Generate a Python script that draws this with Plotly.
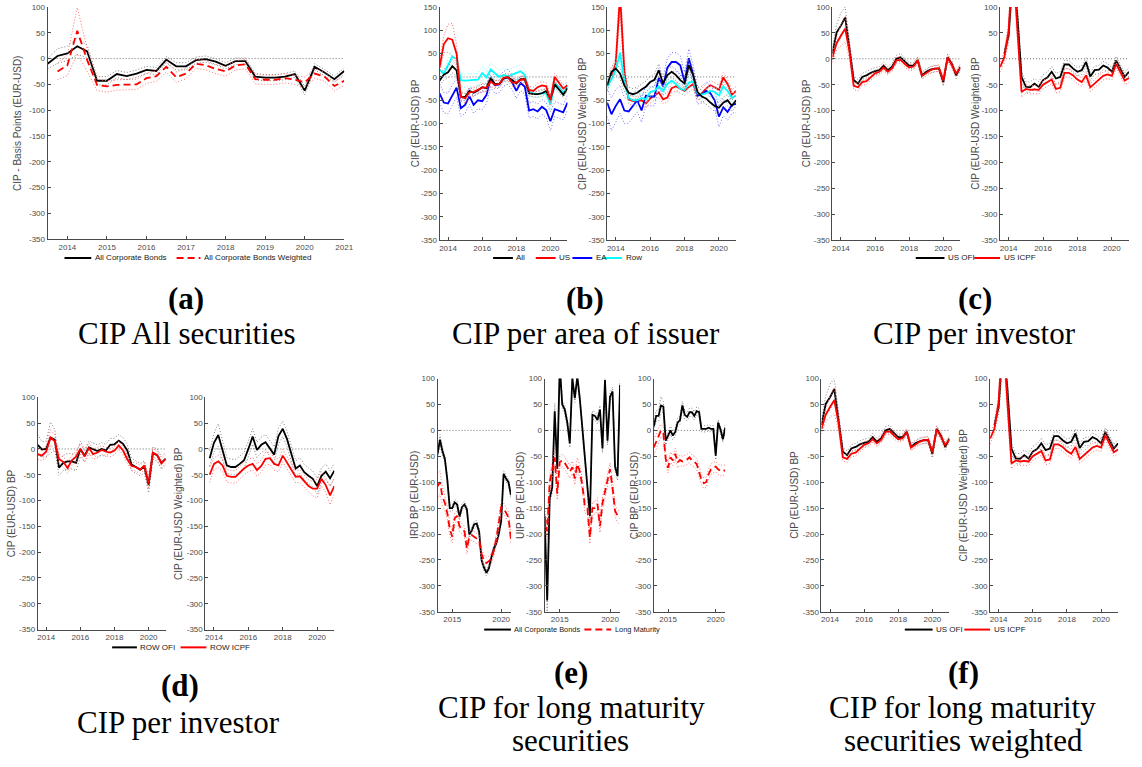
import plotly.graph_objects as go

W, H = 1142, 767

# ---------------- data (quarterly) ----------------
T = [2013.5, 2013.75, 2014.0, 2014.25, 2014.5, 2014.75, 2015.0, 2015.25, 2015.5, 2015.75,
     2016.0, 2016.25, 2016.5, 2016.75, 2017.0, 2017.25, 2017.5, 2017.75, 2018.0, 2018.25,
     2018.5, 2018.75, 2019.0, 2019.25, 2019.5, 2019.75, 2020.0, 2020.25, 2020.5, 2020.75, 2021.0]

X_TICKS_YEARLY = [2014, 2015, 2016, 2017, 2018, 2019, 2020, 2021]
X_TICKS_YEARLY_TEXT = ['2014', '2015', '2016', '2017', '2018', '2019', '2020', '2021']
X_TICKS_EVEN = [2014, 2016, 2018, 2020]
X_TICKS_EVEN_TEXT = ['2014', '2016', '2018', '2020']
X_TICKS_E = [2015, 2020]
X_TICKS_E_TEXT = ['2015', '2020']
Y_TICKS_100 = [-350, -300, -250, -200, -150, -100, -50, 0, 50, 100]
Y_TICKS_100_TEXT = ['-350', '-300', '-250', '-200', '-150', '-100', '-50', '0', '50', '100']
Y_TICKS_150 = [-350, -300, -250, -200, -150, -100, -50, 0, 50, 100, 150]
Y_TICKS_150_TEXT = ['-350', '-300', '-250', '-200', '-150', '-100', '-50', '0', '50', '100', '150']

# (a) CIP all securities
a_all = [-10, 5, 10, 24, 14, -43, -43, -30, -34, -29, -22, -24, -2, -15, -15, -3, -1, -6, -14, -5, -5, -35, -37, -37, -35, -30, -62, -16, -27, -40, -24]
a_all_hw = [10, 14, 14, 16, 12, 8, 8, 7, 7, 7, 7, 7, 6, 7, 7, 6, 6, 6, 6, 6, 6, 6, 6, 6, 6, 6, 8, 6, 6, 6, 6]
a_w = [None, -25, -13, 54, -3, -51, -54, -51, -50, -50, -38, -34, -16, -36, -29, -10, -13, -20, -25, -13, -11, -40, -41, -41, -38, -41, -46, -29, -35, -53, -43]
a_w_hw = [None, 16, 20, 45, 22, 11, 11, 10, 10, 10, 10, 10, 10, 10, 10, 9, 9, 9, 9, 9, 9, 9, 9, 9, 9, 9, 10, 9, 9, 9, 9]

# (b) per area of issuer
b_all = [-8, 5, 10, 23, 14, -42, -43, -30, -34, -29, -22, -24, -2, -15, -15, -3, -1, -6, -14, -5, -5, -35, -37, -37, -35, -30, -48, -16, -27, -38, -24]
b_all_hw = [10, 12, 12, 14, 12, 8, 8, 7, 7, 7, 7, 7, 6, 7, 7, 6, 6, 6, 6, 6, 6, 6, 6, 6, 6, 6, 8, 6, 6, 6, 6]
b_us = [20, 70, 83, 80, 50, -42, -46, -33, -32, -27, -23, -23, -10, -17, -15, -2, 0, -12, -12, -6, -5, -28, -30, -22, -18, -20, -50, 0, -12, -25, -18]
b_us_hw = [12, 18, 30, 35, 20, 10, 10, 9, 9, 9, 9, 9, 9, 9, 9, 8, 8, 8, 8, 8, 8, 8, 8, 8, 8, 8, 10, 8, 8, 8, 8]
b_ea = [-35, -55, -57, -39, -23, -67, -60, -41, -60, -50, -52, -39, -4, -18, -16, -4, 0, -11, -30, -13, -21, -72, -69, -74, -64, -71, -95, -69, -72, -76, -55]
b_ea_hw = [20, 22, 22, 22, 20, 18, 18, 18, 18, 18, 18, 18, 18, 18, 18, 16, 16, 16, 16, 16, 16, 16, 16, 16, 16, 16, 20, 16, 16, 16, 16]
b_row = [16, 7, 25, 44, 39, -7, -8, -7, -6, -6, 8, -1, 16, 7, 0, 4, 1, 5, 8, 12, 4, -32, -35, -37, -35, -35, -60, -14, -21, -35, -21]
b_row_hw = [10, 10, 12, 14, 12, 14, 14, 14, 14, 14, 14, 14, 14, 14, 14, 14, 14, 14, 14, 14, 12, 8, 8, 8, 8, 8, 10, 8, 8, 8, 8]

b_all_w = [-18, 11, 18, 7, -18, -34, -37, -34, -27, -21, -11, -6, 14, -14, 4, 11, 4, -7, -14, 25, 4, -32, -42, -46, -55, -62, -66, -55, -50, -62, -50]
b_all_w_hw = [12, 12, 12, 12, 12, 12, 12, 12, 12, 12, 12, 12, 14, 12, 12, 12, 12, 12, 12, 14, 12, 12, 12, 12, 12, 12, 12, 12, 12, 12, 12]
b_us_w = [None, 2, 30, 175, 10, -48, -52, -52, -50, -57, -46, -40, -33, -48, -44, -24, -20, -25, -30, -22, -15, -40, -35, -25, -18, -22, -28, -1, -15, -38, -30]
b_us_w_hw = [None, 8, 15, 40, 20, 10, 10, 10, 10, 10, 10, 10, 10, 10, 10, 10, 10, 10, 10, 10, 10, 10, 10, 10, 10, 10, 10, 10, 10, 10, 10]
b_ea_w = [-55, -80, -62, -48, -72, -74, -62, -50, -72, -40, -42, -42, -2, -20, 20, 32, 32, 25, -10, 40, 5, -40, -38, -30, -35, -50, -85, -65, -75, -60, -58]
b_ea_w_hw = [30, 35, 35, 30, 28, 25, 25, 25, 25, 22, 20, 20, 20, 20, 20, 20, 20, 20, 20, 20, 20, 18, 18, 18, 18, 18, 22, 18, 18, 18, 18]
b_row_w = [-21, -5, 15, 52, -10, -45, -50, -50, -45, -48, -32, -30, -20, -30, -15, -8, -15, -25, -28, -12, -10, -35, -38, -35, -30, -32, -40, -20, -30, -45, -40]
b_row_w_hw = [10, 10, 12, 18, 12, 10, 10, 10, 10, 10, 10, 10, 10, 10, 10, 10, 10, 10, 10, 10, 10, 10, 10, 10, 10, 10, 10, 10, 10, 10, 10]

# (c) and (f) per investor, US
c_ofi = [10, 51, 64, 80, 20, -41, -48, -35, -32, -27, -24, -22, -13, -22, -15, 0, 3, -6, -13, -13, -3, -32, -25, -21, -19, -19, -45, 3, -10, -32, -16]
c_ofi_hw = [12, 15, 25, 20, 15, 8, 8, 7, 7, 7, 7, 7, 7, 7, 7, 7, 7, 6, 6, 6, 6, 6, 6, 6, 6, 6, 8, 6, 6, 6, 6]
c_icpf = [3, 30, 45, 58, 15, -52, -55, -45, -43, -35, -28, -25, -17, -25, -18, -3, -2, -10, -17, -15, -3, -33, -27, -22, -19, -18, -42, 2, -12, -28, -18]
c_icpf_hw = [10, 12, 20, 25, 15, 7, 7, 6, 6, 6, 6, 6, 6, 6, 6, 6, 6, 6, 6, 6, 6, 6, 6, 6, 6, 6, 7, 6, 6, 6, 6]
c_ofi_w = [None, 10, 45, 170, 85, -35, -54, -55, -48, -54, -41, -36, -25, -38, -35, -11, -11, -19, -25, -22, -6, -34, -22, -21, -13, -17, -25, -3, -19, -35, -25]
c_ofi_w_hw = [None, 8, 15, 30, 20, 10, 10, 10, 10, 10, 10, 10, 10, 10, 10, 8, 8, 8, 8, 8, 8, 8, 8, 8, 8, 8, 8, 8, 8, 8, 8]
c_icpf_w = [-16, 3, 54, 200, 60, -64, -58, -60, -59, -60, -50, -45, -40, -58, -56, -27, -27, -32, -40, -45, -32, -55, -48, -40, -33, -30, -33, -10, -25, -42, -37]
c_icpf_w_hw = [10, 10, 15, 30, 20, 10, 8, 8, 8, 8, 8, 8, 8, 8, 8, 8, 8, 8, 8, 8, 8, 8, 8, 8, 8, 8, 8, 8, 8, 8, 8]

# (d) per investor, ROW
d_ofi = [8, -1, 0, 22, 18, -36, -27, -24, -24, -27, 0, -13, 3, 0, -4, 0, -3, 8, 9, 16, 10, -3, -30, -35, -40, -35, -70, -8, -12, -27, -19]
d_ofi_hw = [20, 15, 15, 30, 20, 15, 15, 15, 15, 15, 15, 12, 12, 12, 12, 12, 12, 12, 12, 12, 12, 12, 12, 12, 12, 12, 15, 12, 12, 12, 12]
d_icpf = [-10, -13, -5, 22, 15, -20, -25, -37, -22, -15, 0, -15, 2, -10, -7, -2, -5, -7, -3, 7, -3, -20, -33, -35, -40, -32, -67, -7, -12, -28, -19]
d_icpf_hw = [10, 10, 12, 15, 12, 10, 10, 10, 10, 10, 10, 10, 10, 10, 10, 8, 8, 8, 8, 8, 8, 8, 8, 8, 8, 8, 10, 8, 8, 8, 8]
d_ofi_w = [None, -18, 12, 27, -3, -32, -35, -35, -29, -22, 0, 24, -2, 8, 13, 0, -11, 25, 39, 19, -10, -38, -32, -45, -52, -58, -72, -52, -44, -57, -42]
d_ofi_w_hw = [None, 15, 18, 22, 18, 15, 15, 15, 15, 15, 15, 15, 15, 15, 15, 15, 15, 15, 15, 15, 15, 15, 15, 15, 15, 15, 15, 15, 15, 15, 15]
d_icpf_w = [None, -50, -29, -24, -32, -52, -54, -54, -45, -38, -32, -29, -41, -33, -19, -18, -29, -32, -13, -27, -41, -54, -53, -62, -72, -77, -77, -58, -70, -90, -72]
d_icpf_w_hw = [None, 15, 12, 12, 12, 12, 12, 12, 12, 12, 12, 12, 12, 12, 12, 12, 12, 12, 12, 12, 12, 12, 12, 12, 12, 14, 18, 14, 14, 18, 15]

# (e) long maturity securities
e_ird = [-46, -18, -40, -55, -95, -150, -150, -139, -143, -166, -148, -143, -152, -201, -193, -181, -180, -195, -250, -265, -275, -266, -245, -228, -218, -200, -175, -84, -93, -100, -125]
e_ird_hw = [8, 10, 8, 6, 6, 6, 6, 6, 6, 6, 6, 6, 6, 6, 6, 6, 6, 6, 6, 6, 6, 6, 6, 6, 6, 6, 6, 6, 6, 6, 6]
e_ird_long = [-108, -100, -128, -140, -160, -190, -205, -170, -165, -185, -190, -195, -228, -205, -202, -205, -208, -212, -238, -252, -256, -252, -248, -232, -210, -180, -148, -150, -158, -168, -210]
e_ird_long_hw = [25, 22, 18, 14, 12, 12, 12, 10, 10, 10, 10, 10, 10, 10, 10, 10, 10, 10, 10, 10, 10, 10, 10, 10, 10, 10, 10, 10, 10, 10, 10]
e_uip = [-169, -328, -131, -110, 37, -74, 125, 50, 40, 15, -25, 101, 62, 104, 60, 5, -50, -110, -165, 30, 28, 20, 40, -35, 97, -20, 65, 75, -70, -88, 88]
e_uip_hw = [10, 25, 10, 10, 15, 10, 10, 8, 8, 8, 8, 8, 8, 8, 8, 8, 8, 8, 8, 8, 8, 8, 8, 8, 8, 8, 8, 8, 8, 8, 8]
e_uip_long = [-165, -195, -100, -74, -52, -122, -61, -58, -63, -71, -80, -71, -93, -65, -80, -106, -147, -150, -207, -150, -150, -142, -185, -140, -120, -95, -75, -110, -155, -165, -170]
e_uip_long_hw = [15, 15, 15, 15, 15, 12, 12, 12, 12, 12, 12, 12, 12, 12, 12, 12, 12, 12, 12, 12, 12, 12, 12, 12, 12, 12, 12, 12, 12, 12, 12]
e_cip = [8, 28, 28, 48, 46, -20, -10, 0, -10, -3, 15, 20, 48, 30, 26, 35, 35, 28, 37, 35, 3, 3, 3, 5, 3, 3, -49, 15, 2, -17, 5]
e_cip_hw = [8, 10, 10, 17, 10, 8, 8, 8, 8, 8, 8, 8, 8, 8, 8, 8, 8, 8, 8, 8, 6, 6, 6, 6, 6, 6, 8, 6, 6, 6, 6]
e_cip_long = [-33, -22, -10, 0, -5, -55, -72, -52, -58, -45, -62, -57, -60, -58, -56, -52, -58, -60, -65, -80, -95, -102, -100, -85, -75, -72, -70, -75, -78, -76, -78]
e_cip_long_hw = [15, 15, 15, 12, 12, 10, 10, 10, 10, 10, 10, 10, 10, 10, 10, 10, 10, 10, 10, 10, 10, 10, 10, 10, 10, 10, 10, 10, 10, 10, 10]

# ---------------- styling ----------------
BLACK, RED, BLUE, CYAN = '#000000', '#ff0000', '#0000ff', '#00ffff'
BAND = {BLACK: '#808080', RED: '#ff7070', BLUE: '#7070ff', CYAN: '#70ffff'}
AX_COLOR = '#4a4a4a'
SANS = 'Liberation Sans, Arial, sans-serif'
SERIF = 'Liberation Serif, Times New Roman, serif'
DASH_RED = '7px,4px'
DOT = '1px,2px'

# subplot boxes in pixels: left, right, top, bottom
BOXES = {
    1: (48, 347, 3, 238),
    2: (443, 572, 3, 239), 3: (612, 742, 3, 239),
    4: (839, 968, 3, 239), 5: (1008, 1138, 3, 239),
    6: (38, 167, 398, 633), 7: (207, 337, 398, 633),
    8: (441, 515, 379, 615), 9: (549, 625, 379, 615), 10: (659, 731, 379, 615),
    11: (828, 957, 379, 615), 12: (998, 1127, 379, 615),
}
YTITLES = {
    1: 'CIP - Basis Points (EUR-USD)',
    2: 'CIP (EUR-USD) BP', 3: 'CIP (EUR-USD Weighted) BP',
    4: 'CIP (EUR-USD) BP', 5: 'CIP (EUR-USD Weighted) BP',
    6: 'CIP (EUR-USD) BP', 7: 'CIP (EUR-USD Weighted) BP',
    8: 'IRD BP (EUR-USD)', 9: 'UIP BP (EUR-USD)', 10: 'CIP BP (EUR-USD)',
    11: 'CIP (EUR-USD) BP', 12: 'CIP (EUR-USD Weighted) BP',
}
# horizontal pixel centre of each y-axis title
YTITLE_X = {1: 17, 2: 419, 3: 587, 4: 813, 5: 983, 6: 12, 7: 180,
            8: 417, 9: 524, 10: 639, 11: 800, 12: 971}

fig = go.Figure()


def px_x(x):
    return x / W


def px_y(y):
    return 1 - y / H


def band(vals, hw, sign):
    return [None if (v is None or h is None) else v + sign * h for v, h in zip(vals, hw)]


def add_series(i, vals, hw, color, dashed=False):
    ax = '' if i == 1 else str(i)
    for s in (1, -1):
        fig.add_trace(go.Scatter(x=T, y=band(vals, hw, s), mode='lines', xaxis='x' + ax, yaxis='y' + ax,
                                 line=dict(color=BAND[color], width=1, dash=DOT),
                                 showlegend=False, hoverinfo='skip'))
    fig.add_trace(go.Scatter(x=T, y=vals, mode='lines', xaxis='x' + ax, yaxis='y' + ax,
                             line=dict(color=color, width=1.8, dash=DASH_RED if dashed else 'solid'),
                             showlegend=False))


# zero reference lines drawn first
for i in BOXES:
    ax = '' if i == 1 else str(i)
    fig.add_shape(type='line', xref='x' + ax + ' domain', yref='y' + ax, x0=0, x1=1, y0=0, y1=0,
                  line=dict(color='#707070', width=1, dash=DOT), layer='below')

add_series(1, a_all, a_all_hw, BLACK)
add_series(1, a_w, a_w_hw, RED, dashed=True)

add_series(2, b_ea, b_ea_hw, BLUE)
add_series(2, b_row, b_row_hw, CYAN)
add_series(2, b_all, b_all_hw, BLACK)
add_series(2, b_us, b_us_hw, RED)
add_series(3, b_us_w, b_us_w_hw, RED)
add_series(3, b_ea_w, b_ea_w_hw, BLUE)
add_series(3, b_row_w, b_row_w_hw, CYAN)
add_series(3, b_all_w, b_all_w_hw, BLACK)

add_series(4, c_ofi, c_ofi_hw, BLACK)
add_series(4, c_icpf, c_icpf_hw, RED)
add_series(5, c_ofi_w, c_ofi_w_hw, BLACK)
add_series(5, c_icpf_w, c_icpf_w_hw, RED)

add_series(6, d_ofi, d_ofi_hw, BLACK)
add_series(6, d_icpf, d_icpf_hw, RED)
add_series(7, d_ofi_w, d_ofi_w_hw, BLACK)
add_series(7, d_icpf_w, d_icpf_w_hw, RED)

add_series(8, e_ird, e_ird_hw, BLACK)
add_series(8, e_ird_long, e_ird_long_hw, RED, dashed=True)
add_series(9, e_uip, e_uip_hw, BLACK)
add_series(9, e_uip_long, e_uip_long_hw, RED, dashed=True)
add_series(10, e_cip, e_cip_hw, BLACK)
add_series(10, e_cip_long, e_cip_long_hw, RED, dashed=True)

add_series(11, c_ofi, c_ofi_hw, BLACK)
add_series(11, c_icpf, c_icpf_hw, RED)
add_series(12, c_ofi_w, c_ofi_w_hw, BLACK)
add_series(12, c_icpf_w, c_icpf_w_hw, RED)

annotations = []
shapes = []

# axes
layout = {}
for i, (l, r, t, b) in BOXES.items():
    ax = '' if i == 1 else str(i)
    if i == 1:
        xt, xtt = X_TICKS_YEARLY, X_TICKS_YEARLY_TEXT
    elif i in (8, 9, 10):
        xt, xtt = X_TICKS_E, X_TICKS_E_TEXT
    else:
        xt, xtt = X_TICKS_EVEN, X_TICKS_EVEN_TEXT
    if i in (2, 3):
        yt, ytt, yr = Y_TICKS_150, Y_TICKS_150_TEXT, [-350, 150]
    else:
        yt, ytt, yr = Y_TICKS_100, Y_TICKS_100_TEXT, [-350, 100]
    common = dict(showline=True, linecolor=AX_COLOR, linewidth=1, ticks='inside', ticklen=3,
                  tickcolor=AX_COLOR, tickwidth=1, showgrid=False, zeroline=False,
                  tickfont=dict(family=SANS, size=8, color=AX_COLOR), fixedrange=True)
    layout['xaxis' + ax] = dict(domain=[px_x(l), px_x(r)], anchor='y' + ax, range=[2013.5, 2021.0],
                                tickvals=xt, ticktext=xtt, **common)
    layout['yaxis' + ax] = dict(domain=[px_y(b), px_y(t)], anchor='x' + ax, range=yr,
                                tickvals=yt, ticktext=ytt, **common)
    annotations.append(dict(text=YTITLES[i], xref='paper', yref='paper',
                            x=px_x(YTITLE_X[i]), y=px_y((t + b) / 2), textangle=-90,
                            xanchor='center', yanchor='middle', showarrow=False,
                            font=dict(family=SANS, size=10, color=AX_COLOR)))


def legend_item(x0, x1, y, color, dashed, text, size=8):
    shapes.append(dict(type='line', xref='paper', yref='paper', x0=px_x(x0), x1=px_x(x1),
                       y0=px_y(y), y1=px_y(y),
                       line=dict(color=color, width=2, dash=DASH_RED if dashed else 'solid')))
    annotations.append(dict(text=text, xref='paper', yref='paper', x=px_x(x1 + 1.5), y=px_y(y),
                            xanchor='left', yanchor='middle', showarrow=False,
                            font=dict(family=SANS, size=size, color='#202020')))


legend_item(65, 92, 257, BLACK, False, 'All Corporate Bonds')
legend_item(178, 202, 257, RED, True, 'All Corporate Bonds Weighted')
legend_item(497, 517, 257, BLACK, False, 'All')
legend_item(540, 560, 257, RED, False, 'US')
legend_item(577, 597, 257, BLUE, False, 'EA')
legend_item(607, 627, 257, CYAN, False, 'Row')
legend_item(923, 952, 257, BLACK, False, 'US OFI')
legend_item(982, 1008, 257, RED, False, 'US ICPF')
legend_item(113, 138, 651, BLACK, False, 'ROW OFI')
legend_item(182, 208, 651, RED, False, 'ROW ICPF')
legend_item(488, 515, 633, BLACK, False, 'All Corporate Bonds', 7.4)
legend_item(589, 616, 633, RED, True, 'Long Maturity', 7.4)
legend_item(912, 940, 633, BLACK, False, 'US OFI')
legend_item(972, 998, 633, RED, False, 'US ICPF')


def caption(x, y, text, bold=False):
    annotations.append(dict(text='<b>' + text + '</b>' if bold else text, xref='paper', yref='paper',
                            x=px_x(x), y=px_y(y), xanchor='center', yanchor='middle', showarrow=False,
                            font=dict(family=SERIF, size=31, color='#000000')))


caption(187, 298, '(a)', True)
caption(188, 333, 'CIP All securities')
caption(590, 298, '(b)', True)
caption(591, 333, 'CIP per area of issuer')
caption(983, 298, '(c)', True)
caption(982, 333, 'CIP per investor')
caption(181, 690, '(d)', True)
caption(180, 727, 'CIP per investor')
caption(576, 676, '(e)', True)
caption(576, 712, 'CIP for long maturity')
caption(575, 745, 'securities')
caption(971, 676, '(f)', True)
caption(970, 712, 'CIP for long maturity')
caption(971, 745, 'securities weighted')

fig.update_layout(width=W, height=H, autosize=False, margin=dict(l=0, r=0, t=0, b=0),
                  paper_bgcolor='white', plot_bgcolor='white', showlegend=False,
                  annotations=annotations, **layout)
for s in shapes:
    fig.add_shape(**s)

fig.write_html('out.html')
